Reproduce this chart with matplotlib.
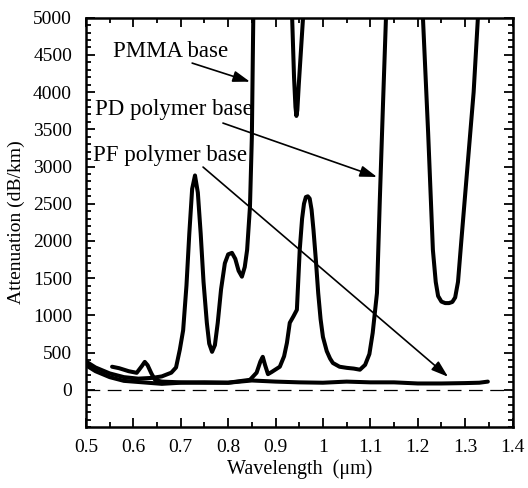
import numpy as np
import matplotlib
matplotlib.use("Agg")
import matplotlib.pyplot as plt
from matplotlib.ticker import MultipleLocator, FixedLocator

# ---------------- data ----------------
pmma_x = [0.50, 0.52, 0.55, 0.58, 0.61, 0.64, 0.66, 0.68, 0.69, 0.698, 0.705, 0.712,
          0.718, 0.724, 0.730, 0.736, 0.742, 0.748, 0.755, 0.760, 0.766, 0.772,
          0.778, 0.785, 0.793, 0.800, 0.808, 0.815, 0.822, 0.829, 0.835, 0.840,
          0.846, 0.850, 0.853, 0.87, 0.92, 0.935, 0.939, 0.942, 0.944, 0.946,
          0.949, 0.953, 0.958, 0.98]
pmma_y = [380, 300, 220, 170, 150, 160, 180, 230, 300, 540, 800, 1400,
          2100, 2700, 2880, 2650, 2100, 1450, 900, 620, 510, 600,
          900, 1350, 1700, 1820, 1840, 1760, 1600, 1520, 1650, 1880,
          2460, 3400, 5000, 9000, 9000, 5000, 4200, 3800, 3680, 3760,
          4100, 4500, 5000, 9000]

pd_x = [0.555, 0.57, 0.59, 0.607, 0.618, 0.624, 0.630, 0.638, 0.646, 0.66, 0.70,
        0.75, 0.80, 0.846, 0.860, 0.868, 0.873, 0.878, 0.884, 0.892, 0.909,
        0.918, 0.924, 0.930, 0.938, 0.945, 0.951, 0.956, 0.960, 0.964, 0.968,
        0.972, 0.976, 0.980, 0.985, 0.990, 0.995, 1.000, 1.008, 1.015, 1.021,
        1.035, 1.050, 1.065, 1.078, 1.089, 1.098, 1.105, 1.114, 1.120, 1.127,
        1.133, 1.15, 1.19, 1.211, 1.222, 1.232, 1.238, 1.243, 1.250, 1.258,
        1.266, 1.273, 1.279, 1.285, 1.292, 1.305, 1.318, 1.327, 1.34]
pd_y = [310, 290, 250, 228, 320, 375, 330, 220, 130, 110, 100,
        95, 95, 134, 230, 380, 443, 330, 210, 240, 310,
        450, 630, 900, 990, 1075, 1880, 2300, 2500, 2590, 2600,
        2570, 2420, 2150, 1750, 1300, 950, 710, 520, 420, 360,
        310, 295, 285, 270, 335, 480, 765, 1300, 2550, 3890,
        5000, 9000, 9000, 5000, 3450, 1880, 1450, 1260, 1185, 1165,
        1165, 1180, 1240, 1450, 2000, 3000, 4000, 5000, 9000]

pf_x = [0.50, 0.52, 0.55, 0.58, 0.62, 0.66, 0.70, 0.75, 0.80, 0.85, 0.90, 0.95,
        1.00, 1.05, 1.10, 1.15, 1.20, 1.25, 1.30, 1.33, 1.348]
pf_y = [330, 250, 170, 120, 100, 80, 95, 100, 95, 125, 110, 100,
        95, 110, 100, 100, 85, 85, 90, 95, 110]

x_ticks = [0.5, 0.6, 0.7, 0.8, 0.9, 1.0, 1.1, 1.2, 1.3, 1.4]
x_ticklabels = ["0.5", "0.6", "0.7", "0.8", "0.9", "1", "1.1", "1.2", "1.3", "1.4"]
y_ticks = [0, 500, 1000, 1500, 2000, 2500, 3000, 3500, 4000, 4500, 5000]
y_ticklabels = [str(v) for v in y_ticks]

labels = ["PMMA base", "PD polymer base", "PF polymer base"]
label_pos = [(0.557, 4540), (0.519, 3770), (0.515, 3150)]
arrow_tail = [(0.724, 4390), (0.789, 3584), (0.747, 2993)]
arrow_head = [(0.846, 4140), (1.114, 2860), (1.264, 175)]

# ---------------- figure ----------------
plt.rcParams['font.family'] = ['Liberation Serif', 'DejaVu Serif']
fig = plt.figure(figsize=(5.28, 4.88), dpi=100)
ax = fig.add_axes([86 / 528, 1 - 427 / 488, (512.5 - 86) / 528, (427 - 17.7) / 488])

lw = 2.9
for xs, ys in [(pmma_x, pmma_y), (pd_x, pd_y), (pf_x, pf_y)]:
    ax.plot(xs, ys, color='black', lw=lw, solid_joinstyle='round',
            solid_capstyle='round')

ax.axhline(0, color='black', lw=0.9, dashes=(11, 6))

for lab, (tx, ty), (ax0, ay0), (hx, hy) in zip(labels, label_pos, arrow_tail, arrow_head):
    ax.text(tx, ty, lab, fontsize=16.5, ha='left', va='center')
    ax.annotate("", xy=(hx, hy), xytext=(ax0, ay0),
                arrowprops=dict(arrowstyle='-|>,head_length=0.6,head_width=0.2',
                                lw=1.2, color='black', mutation_scale=17,
                                shrinkA=0, shrinkB=0))

ax.set_xlim(0.5, 1.4)
ax.set_ylim(-500, 5000)
ax.xaxis.set_major_locator(FixedLocator(x_ticks))
ax.set_xticklabels(x_ticklabels)
ax.xaxis.set_minor_locator(MultipleLocator(0.05))
ax.yaxis.set_major_locator(FixedLocator(y_ticks))
ax.set_yticklabels(y_ticklabels)
ax.yaxis.set_minor_locator(MultipleLocator(100))

ax.tick_params(which='both', direction='in', top=True, right=True, width=1.3,
               labelsize=14)
ax.tick_params(which='major', length=6.5)
ax.tick_params(which='minor', length=3.5)
ax.tick_params(axis='y', which='major', pad=10)
ax.tick_params(axis='x', which='major', pad=9)
for s in ax.spines.values():
    s.set_linewidth(1.8)

ax.set_xlabel("Wavelength  (\u03bcm)", fontsize=14.5, labelpad=2)
ax.set_ylabel("Attenuation (dB/km)", fontsize=14, labelpad=6)

fig.savefig("out.png", dpi=100)
